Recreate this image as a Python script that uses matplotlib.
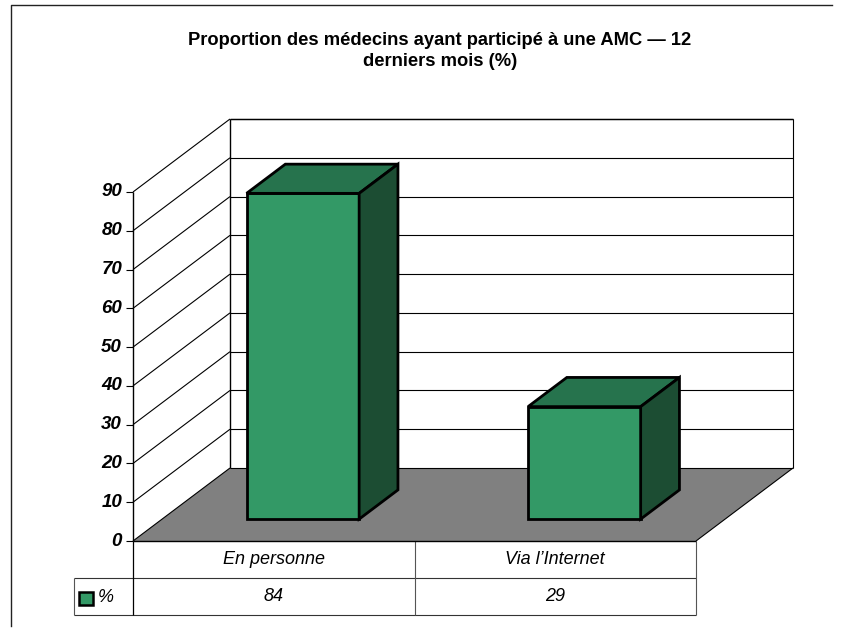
#!/usr/bin/env python3
"""Faux 3D column chart with data table, drawn in pixel-like coordinates."""

import matplotlib
matplotlib.use('Agg')
import matplotlib.pyplot as plt
import matplotlib.patches as patches

plt.rcParams['font.family'] = ['Liberation Sans', 'DejaVu Sans']

TITLE = 'Proportion des médecins ayant participé à une AMC — 12\nderniers mois (%)'
categories = ['En personne', 'Via l’Internet']
values = [84, 29]
series_name = '%'
y_ticks = [0, 10, 20, 30, 40, 50, 60, 70, 80, 90]

W, H = 844, 631
GREEN_FRONT = '#339966'
GREEN_TOP = '#26734d'
GREEN_SIDE = '#1c4d33'

# plot box, in pixels of the picture
X0, Y0 = 133, 541       # front corner at value 0
PLOT_W = 563
PX_PER_UNIT = 349 / 90
DX, DY = 97, 73         # depth offset of the back wall
GAP = 0.30              # share of a category left free on each side
DEPTH0, DEPTH1 = 0.30, 0.70


def project(cat, val, depth):
    """Category position (0..n), value, depth (0..1) to picture coordinates."""
    x = X0 + cat * PLOT_W / len(categories) + depth * DX
    y = Y0 - val * PX_PER_UNIT - depth * DY
    return x, y


def poly(ax, pts, color, edge='black', lw=1.0, z=2):
    ax.add_patch(patches.Polygon(pts, closed=True, facecolor=color, edgecolor=edge,
                                 linewidth=lw, joinstyle='miter', zorder=z))


def line(ax, a, b, color='black', lw=0.8, z=1):
    ax.plot([a[0], b[0]], [a[1], b[1]], color=color, lw=lw, zorder=z,
            solid_capstyle='butt')


fig = plt.figure(figsize=(W / 100, H / 100), dpi=100)
fig.patch.set_facecolor('white')
ax = fig.add_axes([0, 0, 1, 1])
ax.set_xlim(0, W)
ax.set_ylim(H, 0)
ax.axis('off')

# cadre
ax.plot([11, 11, 832], [626, 5, 5], color='#222222', lw=1.0, zorder=1)

ax.text(440, 51, TITLE, ha='center', va='center', fontsize=13.2,
        fontweight='bold', color='black', linespacing=1.3)

n = len(categories)
top = y_ticks[-1]

# sol
poly(ax, [project(0, 0, 0), project(n, 0, 0), project(n, 0, 1), project(0, 0, 1)],
     '#808080', edge='none', z=1)

# grille
for v in y_ticks:
    line(ax, project(0, v, 0), project(0, v, 1))
    line(ax, project(0, v, 1), project(n, v, 1))
line(ax, project(0, top, 1), project(n, top, 1), lw=1.0)
line(ax, project(0, 0, 1), project(0, top, 1), lw=1.0)
line(ax, project(n, 0, 1), project(n, top, 1), lw=0.8)
line(ax, project(n, 0, 1), project(n, 0, 0), lw=0.8)
line(ax, project(0, 0, 0), project(0, top, 0), lw=1.0, z=3)

for v in y_ticks:
    x, y = project(0, v, 0)
    line(ax, (x - 7, y), (x, y), lw=0.8)
    ax.text(x - 11, y, str(v), ha='right', va='center', fontsize=13.5,
            fontweight='bold', fontstyle='italic')

# colonnes
for i, val in enumerate(values):
    a, b = i + GAP, i + 1 - GAP
    poly(ax, [project(a, 0, DEPTH0), project(b, 0, DEPTH0),
              project(b, val, DEPTH0), project(a, val, DEPTH0)],
         GREEN_FRONT, lw=2.0, z=4)
    poly(ax, [project(a, val, DEPTH0), project(b, val, DEPTH0),
              project(b, val, DEPTH1), project(a, val, DEPTH1)],
         GREEN_TOP, lw=2.0, z=4)
    poly(ax, [project(b, 0, DEPTH0), project(b, 0, DEPTH1),
              project(b, val, DEPTH1), project(b, val, DEPTH0)],
         GREEN_SIDE, lw=2.0, z=4)

# table de données
ROW1, ROW2 = 578, 615
TABLE_LEFT = 74
x_right = project(n, 0, 0)[0]
line(ax, (X0, Y0), (x_right, Y0), lw=1.0, z=3)
line(ax, (TABLE_LEFT, ROW1), (x_right, ROW1), color='#333333')
line(ax, (TABLE_LEFT, ROW2), (x_right, ROW2), color='#333333')
line(ax, (TABLE_LEFT, ROW1), (TABLE_LEFT, ROW2), color='#555555')
line(ax, (X0, Y0), (X0, ROW2), lw=0.9)
for i in range(1, n + 1):
    cx = project(i, 0, 0)[0]
    line(ax, (cx, Y0), (cx, ROW2), color='#555555')
for i, (c, val) in enumerate(zip(categories, values)):
    cx = project(i + 0.5, 0, 0)[0]
    ax.text(cx, 559.5, c, ha='center', va='center', fontsize=13, fontstyle='italic')
    ax.text(cx, 596.5, str(val), ha='center', va='center', fontsize=13, fontstyle='italic')

ax.add_patch(patches.Rectangle((79, 592), 14, 13, facecolor=GREEN_FRONT, edgecolor='black',
                               linewidth=1.8, zorder=3))
ax.text(98, 598, series_name, ha='left', va='center', fontsize=13, fontstyle='italic')

fig.savefig('out.png', dpi=100, facecolor='white')
plt.close(fig)
